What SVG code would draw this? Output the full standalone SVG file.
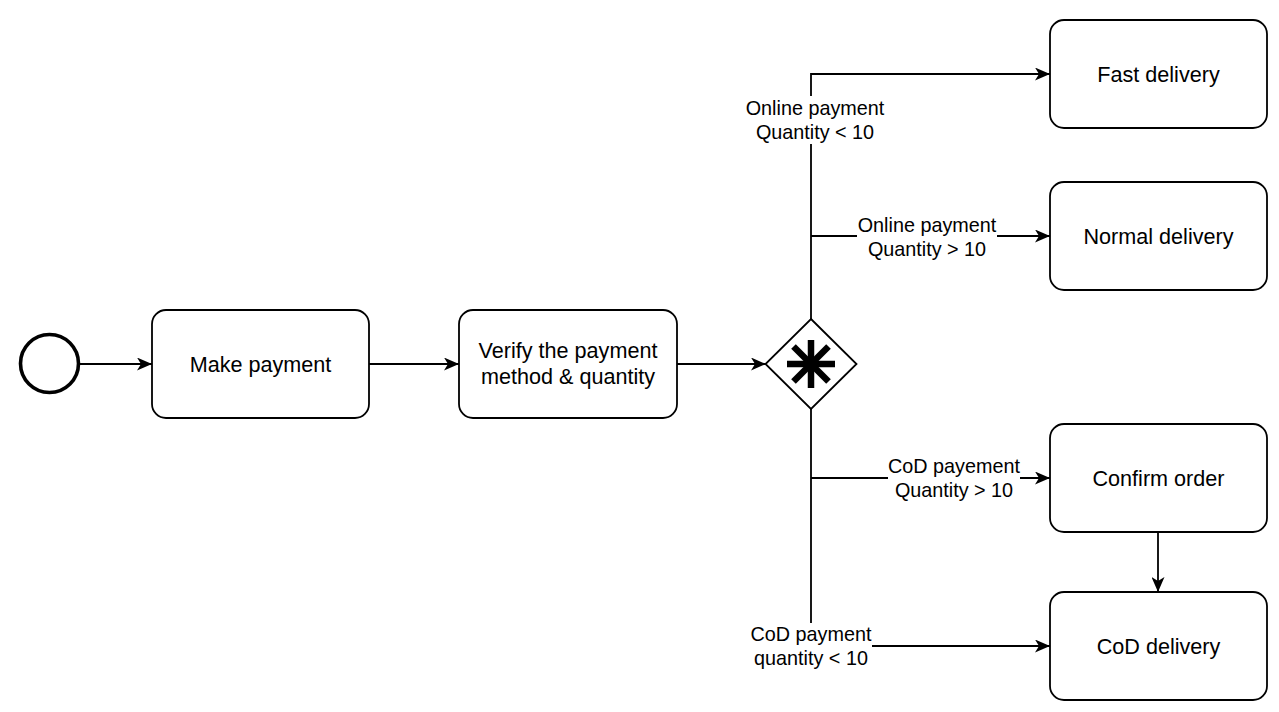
<svg xmlns="http://www.w3.org/2000/svg" width="1279" height="712" viewBox="0 0 1279 712">
  <style>
    .box { fill: #ffffff; stroke: #000000; stroke-width: 1.8; }
    .t { font-family: "Liberation Sans", Arial, sans-serif; font-size: 21.6px; fill: #000000; text-anchor: middle; }
    .lbl { font-family: "Liberation Sans", Arial, sans-serif; font-size: 19.8px; fill: #000000; text-anchor: middle; }
    .edge { fill: none; stroke: #000000; stroke-width: 1.8; }
    .lblbg { fill: #ffffff; stroke: none; }
  </style>
  <defs>
    <marker id="arrow" markerUnits="userSpaceOnUse" viewBox="0 0 15 13" refX="15" refY="6.5" markerWidth="15" markerHeight="13" orient="auto">
      <path d="M0,0 L15,6.5 L0,13 L4,6.5 Z" fill="#000000"/>
    </marker>
  </defs>
  <rect width="1279" height="712" fill="#ffffff"/>

  <g id="connectors">
    <line class="edge" x1="79" y1="364" x2="152" y2="364" marker-end="url(#arrow)"/>
    <line class="edge" x1="369" y1="364" x2="459" y2="364" marker-end="url(#arrow)"/>
    <line class="edge" x1="677" y1="364" x2="766" y2="364" marker-end="url(#arrow)"/>
    <polyline class="edge" points="811,319 811,74 1050,74" marker-end="url(#arrow)"/>
    <polyline class="edge" points="811,236 1050,236" marker-end="url(#arrow)"/>
    <polyline class="edge" points="811,409 811,646 1050,646" marker-end="url(#arrow)"/>
    <polyline class="edge" points="811,478 1050,478" marker-end="url(#arrow)"/>
    <line class="edge" x1="1158" y1="532" x2="1158" y2="592" marker-end="url(#arrow)"/>

    <g id="label-online-lt10">
      <rect class="lblbg" x="746" y="96" width="138" height="48"/>
      <text class="lbl" x="815" y="115">Online payment</text>
      <text class="lbl" x="815" y="139">Quantity &lt; 10</text>
    </g>
    <g id="label-online-gt10">
      <rect class="lblbg" x="857" y="214" width="140" height="46"/>
      <text class="lbl" x="927" y="232">Online payment</text>
      <text class="lbl" x="927" y="256">Quantity &gt; 10</text>
    </g>
    <g id="label-cod-gt10">
      <rect class="lblbg" x="888" y="456" width="132" height="46"/>
      <text class="lbl" x="954" y="473">CoD payement</text>
      <text class="lbl" x="954" y="497">Quantity &gt; 10</text>
    </g>
    <g id="label-cod-lt10">
      <rect class="lblbg" x="750" y="623" width="122" height="47"/>
      <text class="lbl" x="811" y="641">CoD payment</text>
      <text class="lbl" x="811" y="665">quantity &lt; 10</text>
    </g>
  </g>

  <g id="start">
    <circle cx="49.5" cy="363.5" r="29" fill="#ffffff" stroke="#000000" stroke-width="3.6"/>
  </g>

  <g id="make-payment">
    <rect class="box" x="152" y="310" width="217" height="108" rx="14"/>
    <text class="t" x="260.5" y="371.5">Make payment</text>
  </g>

  <g id="verify">
    <rect class="box" x="459" y="310" width="218" height="108" rx="14"/>
    <text class="t" x="568" y="358">Verify the payment</text>
    <text class="t" x="568" y="384">method &amp; quantity</text>
  </g>

  <g id="gateway">
    <polygon points="811,319 856.5,364 811,409 765.5,364" fill="#ffffff" stroke="#000000" stroke-width="1.8"/>
    <g stroke="#000000" stroke-width="6.5" stroke-linecap="butt">
      <line x1="787" y1="364" x2="835" y2="364"/>
      <line x1="811" y1="340" x2="811" y2="388"/>
      <line x1="793.5" y1="346.5" x2="828.5" y2="381.5"/>
      <line x1="828.5" y1="346.5" x2="793.5" y2="381.5"/>
    </g>
  </g>

  <g id="fast-delivery">
    <rect class="box" x="1050" y="20" width="217" height="108" rx="14"/>
    <text class="t" x="1158.5" y="81.5">Fast delivery</text>
  </g>

  <g id="normal-delivery">
    <rect class="box" x="1050" y="182" width="217" height="108" rx="14"/>
    <text class="t" x="1158.5" y="243.5">Normal delivery</text>
  </g>

  <g id="confirm-order">
    <rect class="box" x="1050" y="424" width="217" height="108" rx="14"/>
    <text class="t" x="1158.5" y="485.5">Confirm order</text>
  </g>

  <g id="cod-delivery">
    <rect class="box" x="1050" y="592" width="217" height="108" rx="14"/>
    <text class="t" x="1158.5" y="653.5">CoD delivery</text>
  </g>
</svg>
